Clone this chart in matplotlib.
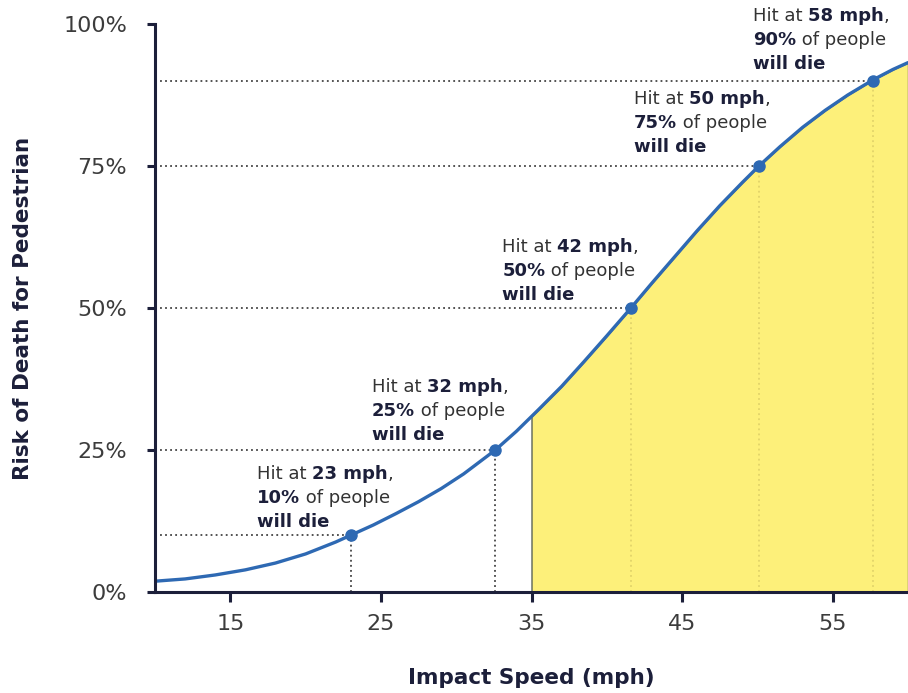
import numpy as np
import matplotlib
matplotlib.use("Agg")
import matplotlib.pyplot as plt

# ---- data ----
speed = [10, 12, 14, 16, 18, 20, 22, 23, 24.5, 26, 27.5, 29, 30.5, 32.6,
         34, 35, 35.5, 37, 38.5, 40, 41.6, 43, 44.5, 46, 47.5, 49, 50.1,
         51.5, 53, 54.5, 56, 57.7, 59, 60]
risk = [1.9, 2.3, 3.0, 3.9, 5.1, 6.7, 8.8, 10, 11.8, 13.8, 15.9, 18.2, 20.8, 25,
        28.3, 30.9, 32.2, 36.2, 40.6, 45.1, 50, 54.4, 59.0, 63.6, 68.0, 72.1, 75,
        78.4, 81.8, 84.8, 87.5, 90.2, 92.0, 93.2]

point_speed = [23, 32.6, 41.6, 50.1, 57.7]
point_risk = [10, 25, 50, 75, 90]

label_speed = ["23", "32", "42", "50", "58"]
label_pct = ["10%", "25%", "50%", "75%", "90%"]

x_ticks = [15, 25, 35, 45, 55]
y_ticks = [0, 25, 50, 75, 100]
y_tick_labels = ["0%", "25%", "50%", "75%", "100%"]

shade_from = 35

# label anchor (left edge, bottom of first line) in data units
label_x = [16.75, 24.4, 33.05, 41.8, 49.7]
label_y = [19.2, 34.5, 59.2, 85.2, 99.9]

NAVY = "#1c1f3a"
BLUE = "#2e69b3"
YELLOW = "#fdf07a"
GREY = "#3c3c3c"

plt.rcParams["font.family"] = ["DejaVu Sans"]

fig = plt.figure(figsize=(9.08, 6.93), dpi=100)
ax = fig.add_axes([155 / 908, 101 / 693, 753 / 908, 568 / 693])

x = np.array(speed)
y = np.array(risk)
mask = x >= shade_from
ax.fill_between(x[mask], 0, y[mask], facecolor=YELLOW, edgecolor="#5b6457",
                linewidth=1.0, zorder=1)

dots = (0, (1, 1.8))
for px, py in zip(point_speed, point_risk):
    ax.plot([10, px], [py, py], color="#444444", lw=1.3, ls=dots, zorder=2)
    vcol = "#e2d46a" if px > shade_from else "#444444"
    ax.plot([px, px], [0, py], color=vcol, lw=1.3, ls=dots, zorder=2)

ax.plot(x, y, color=BLUE, lw=2.4, zorder=3, solid_capstyle="round",
        solid_joinstyle="round")
ax.plot(point_speed, point_risk, "o", color=BLUE, ms=8, zorder=4)


def rich_line(ax, xy, dy, parts, size=13):
    t = None
    for s, bold in parts:
        kw = dict(fontsize=size, color=NAVY if bold else "#333333",
                  weight="bold" if bold else "normal",
                  ha="left", va="bottom", annotation_clip=False)
        if t is None:
            t = ax.annotate(s, xy=xy, xycoords="data", xytext=(0, dy),
                            textcoords="offset pixels", **kw)
        else:
            t = ax.annotate(s, xy=(1, 0), xycoords=t, **kw)
    return t


for lx, ly, sp, pc in zip(label_x, label_y, label_speed, label_pct):
    rich_line(ax, (lx, ly), 0, [("Hit at ", False), (sp + " mph", True), (",", False)])
    rich_line(ax, (lx, ly), -24, [(pc, True), (" of people", False)])
    rich_line(ax, (lx, ly), -48, [("will die", True)])

ax.set_xlim(10, 60)
ax.set_ylim(0, 100)
ax.set_xticks(x_ticks)
ax.set_yticks(y_ticks)
ax.set_yticklabels(y_tick_labels)

for side in ["top", "right"]:
    ax.spines[side].set_visible(False)
for side in ["left", "bottom"]:
    ax.spines[side].set_linewidth(2.2)
    ax.spines[side].set_color(NAVY)
    ax.spines[side].set_zorder(5)

ax.tick_params(axis="both", colors=NAVY, width=2.2, labelcolor=GREY, labelsize=16)
ax.tick_params(axis="y", length=6, pad=14)
ax.tick_params(axis="x", length=7, pad=9)

ax.set_ylabel("Risk of Death for Pedestrian", fontsize=15.5, weight="bold",
              color=NAVY, labelpad=22)
ax.set_xlabel("Impact Speed (mph)", fontsize=15.5, weight="bold",
              color=NAVY, labelpad=24)

fig.savefig("out.png", dpi=100)
